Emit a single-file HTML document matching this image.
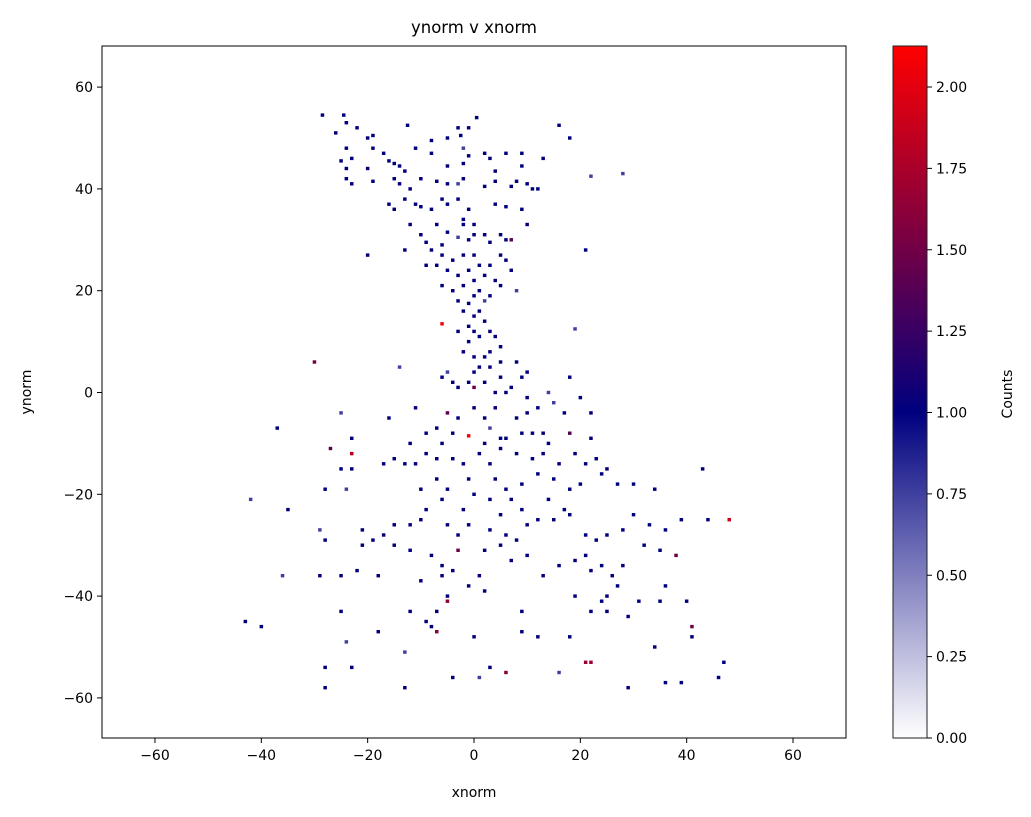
<!DOCTYPE html>
<html><head><meta charset="utf-8"><style>
body{margin:0;background:#fff;}
svg{display:block;font-family:"DejaVu Sans","Liberation Sans",sans-serif;}
</style></head><body>
<svg id="chart" width="1031" height="817" viewBox="0 0 1031 817" xmlns="http://www.w3.org/2000/svg">
<defs><linearGradient id="cbg" x1="0" y1="1" x2="0" y2="0">
<stop offset="0" stop-color="#ffffff"/><stop offset="0.4706" stop-color="#00007f"/><stop offset="1" stop-color="#ff0000"/>
</linearGradient></defs>
<g id="cells"></g>
<rect x="102" y="46" width="744" height="692" fill="none" stroke="#000" stroke-width="1"/>
<g id="xticks"></g>
<g id="yticks"></g>
<text x="474" y="33" font-size="16.5" text-anchor="middle">ynorm v xnorm</text>
<text x="474" y="797" font-size="14" text-anchor="middle">xnorm</text>
<text x="31" y="392" font-size="14" text-anchor="middle" transform="rotate(-90 31 392)">ynorm</text>
<rect x="893" y="46" width="34" height="692" fill="url(#cbg)" stroke="#222" stroke-width="1"/>
<g id="cticks"></g>
<text x="1012" y="394" font-size="14" text-anchor="middle" transform="rotate(-90 1012 394)">Counts</text>
</svg>
<script>
const xTicks=[-60,-40,-20,0,20,40,60];
const yTicks=[60,40,20,0,-20,-40,-60];
const cTicks=[0,0.25,0.5,0.75,1,1.25,1.5,1.75,2];
const cTickLabels=["0.00","0.25","0.50","0.75","1.00","1.25","1.50","1.75","2.00"];
const cells=[
[-28.5,54.5],[-24.5,54.5],[-24,53],[-12.5,52.5],[-3,52],[-1,52],[0.5,54],[16,52.5],[-22,52],[-20,50],[-19,50.5],[-26,51],[-8,49.5],[-5,50],[-2.5,50.5],[2,47],[6,47],[9,47],[13,46],[18,50],[28,43,0.75],
[-24,48],[-23,46],[-19,48],[-17,47],[-11,48],[-8,47],[-2,48,0.75],[-1,46.5],[3,46],[9,44.5],[-25,45.5],[-24,44],[-20,44],[-16,45.5],[-15,45],[-14,44.5],[-13,43.5],[-5,44.5],[-2,45],[4,43.5],[8,41.5],[10,41],[-24,42],[-23,41],[-19,41.5],[-15,42],[-14,41],[-12,40],[-10,42],[-7,41.5],[-5,41],[-3,41,0.75],[-2,42],[2,40.5],[4,41.5],[7,40.5],[11,40],[12,40],[22,42.5,0.75],
[-16,37],[-15,36],[-13,38],[-11,37],[-10,36.5],[-8,36],[-6,38],[-5,37],[-3,38],[-1,36],[-2,34],[4,37],[6,36.5],[9,36],[-12,33],[-7,33],[-5,31.5],[-2,33],[0,33],[2,31],[5,31],[7,30,1.4],[10,33],[-10,31],[-9,29.5],[-6,29],[-3,30.5,0.75],[-1,30],[0,31],[3,29.5],[5,27],[6,30],
[-20,27],[-13,28],[-8,28],[-6,27],[-4,26],[-2,27],[0,27],[3,25],[6,26],[-9,25],[-7,25],[-5,24],[-3,23],[-1,24],[1,25],[2,23],[4,22],[7,24],[21,28],[-6,21],[-4,20],[-2,21],[0,22],[1,20],[3,19],[5,21],[8,20,0.75],
[-3,18],[-1,17.5],[0,19],[2,18,0.75],[-2,16],[0,15],[1,16],[2,14],[-1,13],[-3,12],[-6,13.5,2.1],[0,12],[1,11],[3,12],[-1,10],[19,12.5,0.75],[4,11],[5,9],
[-2,8],[0,7],[2,7],[3,8],[1,5],[0,4],[3,5],[5,6],[8,6],[-5,4,0.75],[-6,3],[-4,2],[-1,2],[0,1,1.5],[2,2],[5,3],[7,1],[-3,1],[4,0],[6,0],[9,3],[10,4],[-14,5,0.75],[-30,6,1.5],[14,0,0.75],[18,3],[20,-1],[10,-1],
[-25,-4,0.75],[-16,-5],[-11,-3],[-7,-7],[-5,-4,1.4],[-3,-5],[0,-3],[2,-5],[4,-3],[8,-5],[10,-4],[12,-3],[15,-2,0.75],[17,-4],[22,-4],[-37,-7],[-9,-8],[-4,-8],[-1,-8.5,2.1],[3,-7,0.75],[6,-9],[9,-8],[11,-8],[13,-8],[-23,-9],[-12,-10],[-6,-10],[2,-10],[5,-9],[14,-10],[22,-9],[18,-8,1.4],
[-23,-12,1.8],[-27,-11,1.4],[-25,-15],[-23,-15],[-17,-14],[-15,-13],[-13,-14],[-11,-14],[-9,-12],[-7,-13],[-4,-13],[-2,-14],[1,-12],[3,-14],[5,-11],[8,-12],[11,-13],[13,-12],[16,-14],[19,-12],[21,-14],[23,-13],[25,-15],[27,-18],[-24,-19,0.75],[-28,-19],[-10,-19],[-7,-17],[-5,-19],[-1,-17],[4,-17],[6,-19],[9,-18],[12,-16],[15,-17],[18,-19],[20,-18],[24,-16],[30,-18],[34,-19],[43,-15],[-6,-21],[0,-20],[3,-21],[7,-21],[9,-23],[14,-21],[17,-23],
[-42,-21,0.75],[-35,-23],[-29,-27,0.75],[-28,-29],[-21,-27],[-19,-29],[-17,-28],[-15,-26],[-12,-26],[-10,-25],[-5,-26],[-1,-26],[3,-27],[6,-28],[8,-29],[10,-26],[12,-25],[15,-25],[18,-24],[21,-28],[23,-29],[25,-28],[28,-27],[30,-24],[33,-26],[36,-27],[39,-25],[44,-25],[48,-25,1.9],[5,-24],[-2,-23],[-9,-23],[-3,-28],[-21,-30],
[-36,-36,0.75],[-29,-36],[-25,-36],[-22,-35],[-18,-36],[-12,-31],[-8,-32],[-6,-34],[-3,-31,1.5],[2,-31],[5,-30],[10,-32],[13,-36],[16,-34],[19,-33],[22,-35],[24,-34],[26,-36],[28,-34],[32,-30],[35,-31],[38,-32,1.5],[-15,-30],[-4,-35],[1,-36],[-1,-38],[7,-33],[21,-32],[27,-38],[-6,-36],[36,-38],[19,-40],[25,-40],[2,-39],[-10,-37],
[-43,-45],[-40,-46],[-25,-43],[-12,-43],[-9,-45],[-7,-43],[-5,-41,1.6],[-8,-46],[-7,-47,1.6],[-24,-49,0.75],[-18,-47],[-13,-51,0.75],[0,-48],[9,-47],[12,-48],[18,-48],[22,-43],[25,-43],[29,-44],[31,-41],[35,-41],[40,-41],[41,-46,1.5],[34,-50],[41,-48],[3,-54],[6,-55,1.6],[16,-55,0.75],[21,-53,1.7],[22,-53,1.7],[36,-57],[39,-57],[47,-53],[46,-56],[-28,-54],[-23,-54],[-28,-58],[-13,-58],[-4,-56],[1,-56,0.75],[29,-58],[-5,-40],[24,-41],[9,-43]
];
const X=v=>474+v*5.317, Y=v=>392.5-v*5.09, C=v=>738-v*(651/2);
function col(c){let r,g,b;if(c<=1){r=255*(1-c);g=255*(1-c);b=255-(255-127)*c;}else{let t=Math.min((c-1)/1.125,1);r=255*t;g=0;b=127*(1-t);}return `rgb(${r|0},${g|0},${b|0})`;}
const NS="http://www.w3.org/2000/svg";
function mk(t,a,p){const e=document.createElementNS(NS,t);for(const k in a)e.setAttribute(k,a[k]);p.appendChild(e);return e;}
const gc=document.getElementById('cells');
cells.forEach(d=>{const c=d[2]===undefined?1:d[2];
const r=mk('rect',{x:(X(d[0])-1.75).toFixed(1),y:(Y(d[1])-1.7).toFixed(1),width:3.5,height:3.4,fill:col(c)},gc);

});
const gx=document.getElementById('xticks');
xTicks.forEach(v=>{mk('line',{x1:X(v),x2:X(v),y1:738,y2:743,stroke:'#000'},gx);
const t=mk('text',{x:X(v),y:760,'font-size':14,'text-anchor':'middle'},gx);t.textContent=String(v).replace('-','\u2212');

});
const gy=document.getElementById('yticks');
yTicks.forEach(v=>{mk('line',{x1:97,x2:102,y1:Y(v),y2:Y(v),stroke:'#000'},gy);
const t=mk('text',{x:93,y:Y(v)+5,'font-size':14,'text-anchor':'end'},gy);t.textContent=String(v).replace('-','\u2212');

});
const gk=document.getElementById('cticks');
cTicks.forEach((v,i)=>{mk('line',{x1:927,x2:932,y1:C(v),y2:C(v),stroke:'#000'},gk);
const t=mk('text',{x:936,y:C(v)+5,'font-size':14},gk);t.textContent=cTickLabels[i];

});
</script>
</body></html>
